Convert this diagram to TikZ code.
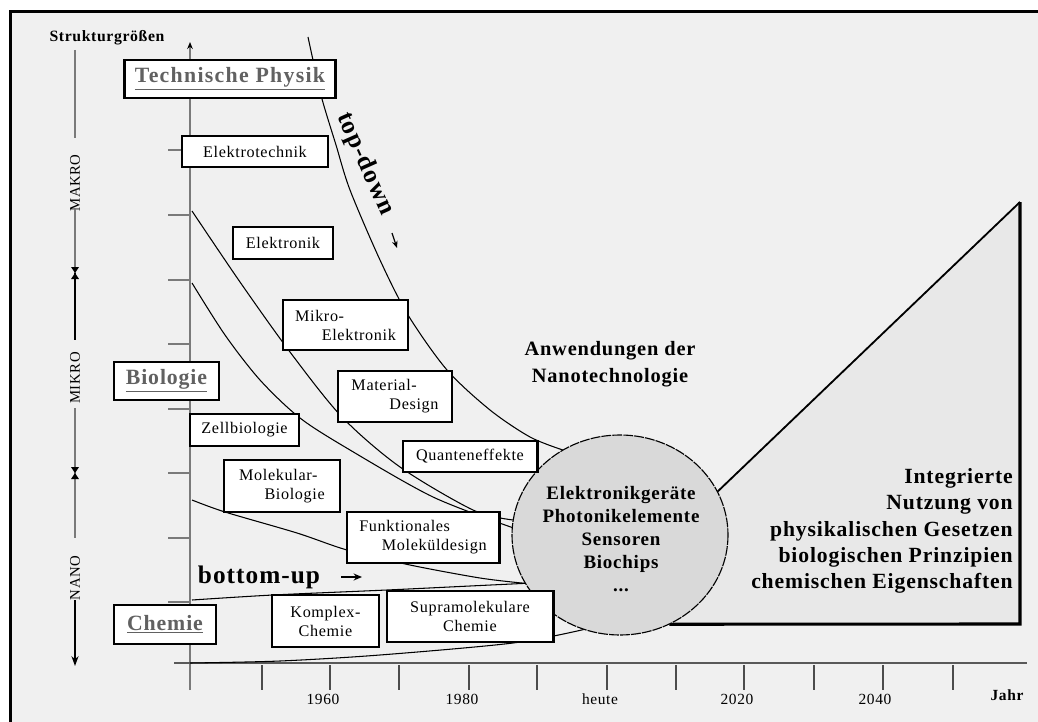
\documentclass[tikz,border=0pt]{standalone}
\usepackage{fontspec}
\setmainfont{Liberation Serif}[LetterSpace=4]
\newfontfamily\capsfont{Liberation Serif}[LetterSpace=6]
\usetikzlibrary{arrows.meta,shapes.geometric}
\definecolor{paper}{HTML}{F0F0F0}
\definecolor{field}{HTML}{E8E8E8}
\definecolor{blob}{HTML}{D9D9D9}
\definecolor{rule}{HTML}{7A7A7A}

\begin{document}
\begin{tikzpicture}[x=0.025cm,y=-0.025cm,
    box/.style={draw,line width=2.1pt,fill=white,inner sep=0pt,align=left,
      font=\fontsize{11.5}{13.5}\selectfont},
    bigbox/.style={box,text=black!62,font=\fontsize{15.5}{18}\selectfont\bfseries},
    curve/.style={line width=0.75pt},
    band/.style={rotate=90,inner sep=0pt,font=\fontsize{10.5}{12}\selectfont},
    year/.style={inner sep=0pt,font=\fontsize{11}{13}\selectfont},
    sand/.pic={\fill (-4,-6) -- (4,-6) -- (-4,6) -- (4,6) -- cycle;}]
    \useasboundingbox (0,0) rectangle (1038,722);
    \fill[white] (0,0) rectangle (1038,722);
    \fill[paper] (10,12) rectangle (1038,722);
    \draw[line width=2.1pt] (10.5,722) -- (10.5,11.5) -- (1038,11.5);

    \node[inner sep=0pt,font=\fontsize{11.2}{13}\selectfont\bfseries] (struk) at (107,38) {Strukturgrößen};
    \draw[rule,line width=1.4pt] (75,50) -- (75,138);
    \node[band] (lbMakro) at (75,183) {MAKRO};
    \draw[rule,line width=1.4pt] (75,208) -- (75,273);
    \draw[line width=1.6pt] (75,273) -- (75,340);
    \node[band] (lbMikro) at (75,378) {MIKRO};
    \draw[rule,line width=1.4pt] (75,408) -- (75,538);
    \node[band] (lbNano) at (75,578) {NANO};
    \draw[line width=1.6pt,-{Stealth[length=7pt,width=5pt]}] (75,600) -- (75,666);
    \pic at (75,273) {sand};
    \pic at (75,473) {sand};

    \draw[rule,line width=1pt,-{Stealth[length=5pt,width=4pt,color=black]}] (190,690) -- (190,42);
    \draw[black!65,line width=1.3pt] (174,663) -- (1027,663);
    \foreach \y in {150,215,280,344,409,473,538,602}
        \draw[rule,line width=1pt] (168,\y) -- (190,\y);
    \foreach \x in {262,330,399,469,537,607,676,744,814,883,953}
        \draw[black!70,line width=1pt] (\x,665) -- (\x,690);
    \foreach \x/\t in {323/1960,462/1980,600/heute,737/2020,875/2040}
        \node[year] (y\t) at (\x,699) {\t};
    \node[year,font=\fontsize{11}{13}\selectfont\bfseries] (jahr) at (1007,695) {Jahr};

    \node[ellipse,minimum width=5.4cm,minimum height=5cm,inner sep=0pt] (circ) at (620,535) {};
    \coordinate (a0) at (308,37);
    \coordinate (b0) at (192,211);
    \coordinate (c0) at (192,283);
    \coordinate (d0) at (192,500);
    \coordinate (e0) at (192,600);
    \coordinate (f0) at (190,663);
    \draw[curve] plot[smooth] coordinates {(a0) (313,60) (322,99) (336,145) (350,190) (380,260)
        (408,315) (447,370) (490,410) (530,437) (circ.124)};
    \draw[curve] plot[smooth] coordinates {(b0) (240,282) (290,352) (342,417) (400,467) (473,510)
        (circ.172)};
    \draw[curve] plot[smooth] coordinates {(c0) (225,335) (260,380) (300,418) (350,450) (433,497)
        (circ.176)};
    \draw[curve] plot[smooth] coordinates {(d0) (225,512) (297,533) (347,550) (410,565) (480,578)
        (circ.207)};
    \draw[curve] plot[smooth] coordinates {(e0) (273,595) (387,590) (470,586) (circ.207)};
    \draw[curve] plot[smooth] coordinates {(f0) (280,661) (380,655) (513,643) (circ.249)};

    \coordinate (apex) at (1020,202);
    \coordinate (foot) at (1020,624);
    \fill[field] (circ.24) -- (apex) -- (foot) -- (circ.-61) -- (circ.center) -- cycle;
    \draw[line width=1.3pt] (circ.24) -- (apex);
    \draw[line width=2.2pt] (apex) -- (foot) -- (circ.-61);
    \draw[fill=blob,line width=0.8pt,dash pattern=on 7pt off 0.8pt] (circ.center) ellipse [x radius=108,y radius=100];

    \node[bigbox,font=\capsfont\fontsize{15.5}{18}\selectfont\bfseries,minimum width=5.25cm,minimum height=0.95cm] (tp) at (230,79) {\underline{Technische Physik}};
    \node[box,minimum width=3.65cm,minimum height=0.775cm] (etech) at (255,151.5) {Elektrotechnik};
    \node[box,minimum width=2.5cm,minimum height=0.8cm] (elek) at (283,243) {Elektronik};
    \node[box,minimum width=3.125cm,minimum height=1.25cm] (mikroel) at (345.5,325) {Mikro-\\\hspace*{19pt}Elektronik};
    \node[box,minimum width=2.85cm,minimum height=1.275cm] (matdes) at (395,396.5) {Material-\\\hspace*{27pt}Design};
    \node[box,minimum width=3.35cm,minimum height=0.775cm] (quant) at (470,456.5) {Quanteneffekte};
    \node[bigbox,minimum width=2.625cm,minimum height=0.95cm] (bio) at (166.5,381) {\underline{Biologie}};
    \node[box,minimum width=2.725cm,minimum height=0.8cm] (zell) at (244.5,430) {Zellbiologie};
    \node[box,minimum width=2.9cm,minimum height=1.3cm] (molbio) at (282,486) {Molekular-\\\hspace*{18pt}Biologie};
    \node[box,minimum width=3.8cm,minimum height=1.275cm] (funkt) at (423,537.5) {Funktionales\\\hspace*{16pt}Moleküldesign};
    \node[bigbox,minimum width=2.55cm,minimum height=0.975cm] (chem) at (165,624.5) {\underline{Chemie}};
    \node[box,align=center,minimum width=2.675cm,minimum height=1.3cm] (komplex) at (325.5,621) {Komplex-\\Chemie};
    \node[box,align=center,minimum width=4.15cm,minimum height=1.275cm] (supra) at (470,616.5) {Supramolekulare\\Chemie};

    \node[rotate=-66,inner sep=0pt,font=\fontsize{18}{20}\selectfont\bfseries] (td) at (365,164) {top-down};
    \coordinate (tdA) at (392,233);
    \coordinate (tdB) at (397,248);
    \draw[line width=0.8pt,-{Stealth[length=5pt,width=4pt]}] (tdA) -- (tdB);
    \node[inner sep=0pt,font=\fontsize{18}{20}\selectfont\bfseries] (bu) at (259,577) {bottom-up};
    \coordinate (buA) at (341,577);
    \coordinate (buB) at (362,577);
    \draw[line width=1.2pt,-{Stealth[length=6pt,width=5pt]}] (buA) -- (buB);

    \node[align=center,inner sep=0pt,font=\fontsize{14.5}{19}\selectfont\bfseries] (anw) at (610,364) {Anwendungen der\\Nanotechnologie};
    \node[align=center,inner sep=0pt,font=\fontsize{13.5}{16.3}\selectfont\bfseries] (apps) at (621,539) {Elektronikgeräte\\Photonikelemente\\Sensoren\\Biochips\\...};
    \node[align=right,anchor=east,inner sep=0pt,font=\fontsize{15.4}{18.6}\selectfont\bfseries] (integ) at (1013,531) {Integrierte\\Nutzung von\\physikalischen Gesetzen\\biologischen Prinzipien\\chemischen Eigenschaften};
\end{tikzpicture}
\end{document}
